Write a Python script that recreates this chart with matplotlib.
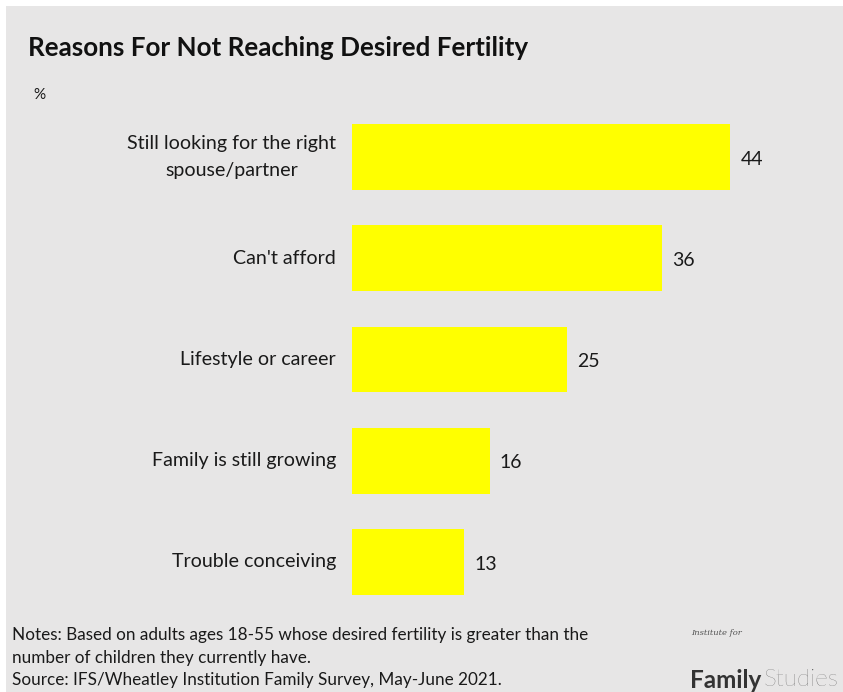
import matplotlib
matplotlib.use("Agg")
import matplotlib.pyplot as plt

plt.rcParams['font.family'] = ['Lato', 'DejaVu Sans']

categories = [
    "Still looking for the right\nspouse/partner",
    "Can't afford",
    "Lifestyle or career",
    "Family is still growing",
    "Trouble conceiving",
]
values = [44, 36, 25, 16, 13]

W, H = 843, 692
fig = plt.figure(figsize=(W / 100, H / 100), dpi=100, facecolor="white")

# light gray panel behind everything
bg = fig.add_axes([6 / W, 0, 1 - 6 / W, 1 - 6 / H], zorder=-5)
bg.set_facecolor("#E7E6E6")
bg.set_xticks([])
bg.set_yticks([])
for s in bg.spines.values():
    s.set_visible(False)

left, right = 352 / W, 800 / W
top, bottom = 1 - 106.4 / H, 1 - 612.6 / H
ax = fig.add_axes([left, bottom, right - left, top - bottom], zorder=1)
ax.set_facecolor("none")

ypos = list(range(len(categories)))
ax.barh(ypos, values, height=0.65, color="#FFFF00", edgecolor="none")
ax.set_xlim(0, 448 / 8.6)
ax.set_ylim(len(categories) - 0.5, -0.5)

ax.set_yticks(ypos)
ax.set_yticklabels(categories, fontsize=14.1, color="#1a1a1a", ha="right", va="center",
                   multialignment="center", linespacing=1.65)
ax.tick_params(axis="y", length=0, pad=11.5)
ax.set_xticks([])
for s in ax.spines.values():
    s.set_visible(False)

for y, v in zip(ypos, values):
    ax.text(v + 1.2, y + 0.02, str(v), va="center", ha="left", fontsize=14, color="#1a1a1a")

fig.text(28 / W, 1 - 48 / H, "Reasons For Not Reaching Desired Fertility",
         fontsize=18.7, fontweight="bold", color="#111111", va="center", ha="left")
fig.text(33 / W, 1 - 95 / H, "%", fontsize=11, color="#1a1a1a", va="center", ha="left")

note_lines = [
    "Notes: Based on adults ages 18-55 whose desired fertility is greater than the",
    "number of children they currently have.",
    "Source: IFS/Wheatley Institution Family Survey, May-June 2021.",
]
for i, line in enumerate(note_lines):
    fig.text(12 / W, 1 - (635 + 22.5 * i) / H, line, fontsize=12.3, color="#1a1a1a",
             va="center", ha="left")

fig.text(691 / W, 1 - 633 / H, "Institute for", fontsize=6, family="DejaVu Serif",
         style="italic", color="#555555", va="center", ha="left")
t1 = fig.text(690 / W, 1 - 680 / H, "Family", fontsize=17.5, fontweight="bold",
              color="#333333", va="center", ha="left")
fig.canvas.draw()
bb = t1.get_window_extent()
fig.text((bb.x1 + 2) / W, 1 - 680 / H, "Studies", fontsize=17.5, fontweight="light",
         color="#555555", va="center", ha="left")

fig.savefig("out.png", dpi=100, facecolor="white")
